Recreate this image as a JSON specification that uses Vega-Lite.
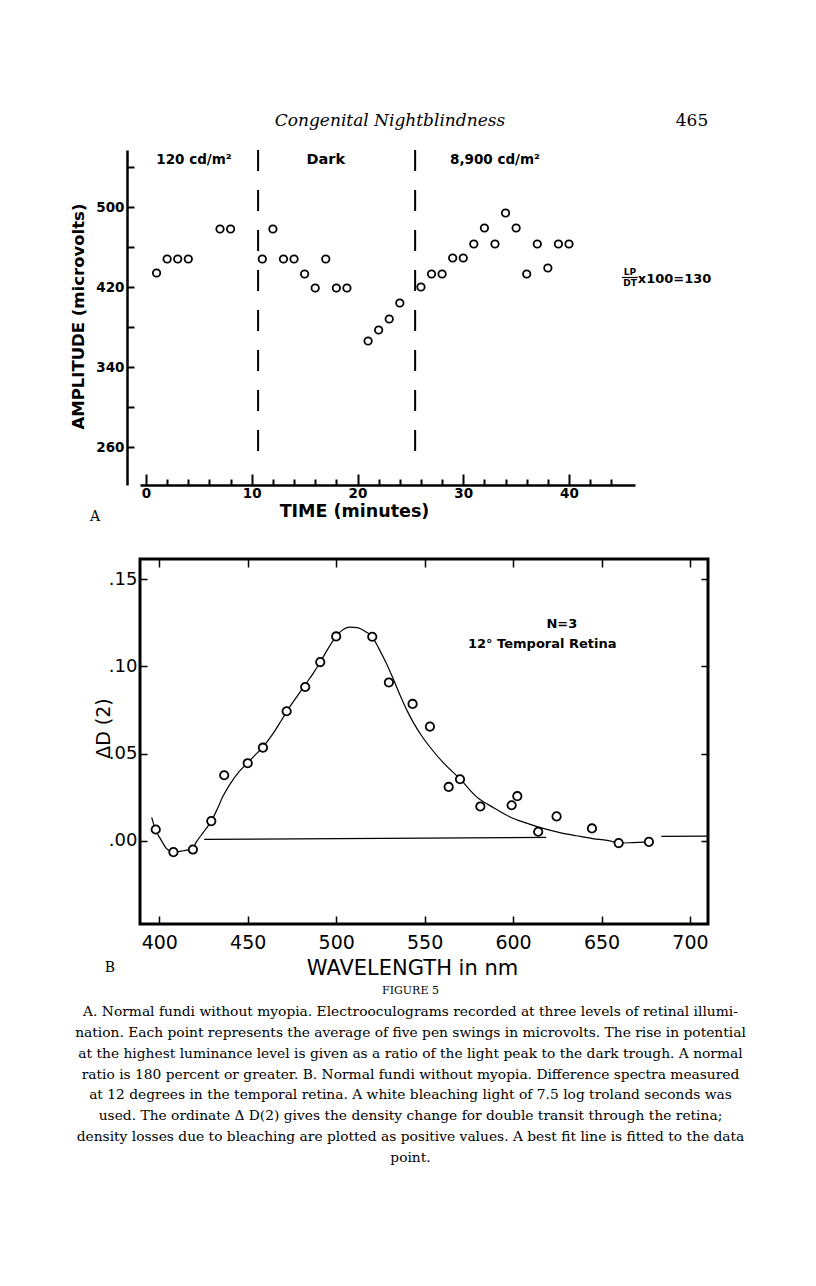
{
  "$schema": "https://vega.github.io/schema/vega-lite/v6.json",
  "background": "white",
  "padding": {"left": 70, "top": 112, "right": 0, "bottom": 0},
  "autosize": {"type": "pad"},
  "config": {
    "view": {"stroke": null},
    "axis": {"grid": false, "domainColor": "black", "tickColor": "black", "labelColor": "black", "titleColor": "black"},
    "text": {"color": "black"}
  },
  "datasets": {
    "eog": [
      {"t": 1, "amp": 434}, {"t": 2, "amp": 448}, {"t": 3, "amp": 448}, {"t": 4, "amp": 448},
      {"t": 7, "amp": 478}, {"t": 8, "amp": 478}, {"t": 11, "amp": 448}, {"t": 12, "amp": 478},
      {"t": 13, "amp": 448}, {"t": 14, "amp": 448}, {"t": 15, "amp": 433}, {"t": 16, "amp": 419},
      {"t": 17, "amp": 448}, {"t": 18, "amp": 419}, {"t": 19, "amp": 419}, {"t": 21, "amp": 366},
      {"t": 22, "amp": 377}, {"t": 23, "amp": 388}, {"t": 24, "amp": 404}, {"t": 26, "amp": 420},
      {"t": 27, "amp": 433}, {"t": 28, "amp": 433}, {"t": 29, "amp": 449}, {"t": 30, "amp": 449},
      {"t": 31, "amp": 463}, {"t": 32, "amp": 479}, {"t": 33, "amp": 463}, {"t": 34, "amp": 494},
      {"t": 35, "amp": 479}, {"t": 36, "amp": 433}, {"t": 37, "amp": 463}, {"t": 38, "amp": 439},
      {"t": 39, "amp": 463}, {"t": 40, "amp": 463}
    ],
    "spectrum": [
      {"wl": 398, "d": 0.0065}, {"wl": 408, "d": -0.0065}, {"wl": 419, "d": -0.005},
      {"wl": 429.4, "d": 0.0113}, {"wl": 436.7, "d": 0.0376}, {"wl": 450, "d": 0.0445},
      {"wl": 458.6, "d": 0.0534}, {"wl": 472, "d": 0.0743}, {"wl": 482.5, "d": 0.0882},
      {"wl": 491, "d": 0.1025}, {"wl": 500, "d": 0.1172}, {"wl": 520.4, "d": 0.117},
      {"wl": 529.8, "d": 0.0908}, {"wl": 543.2, "d": 0.0785}, {"wl": 553, "d": 0.0655},
      {"wl": 563.6, "d": 0.0309}, {"wl": 570, "d": 0.0353}, {"wl": 581.5, "d": 0.0197},
      {"wl": 599.2, "d": 0.0204}, {"wl": 602.4, "d": 0.0256}, {"wl": 614.2, "d": 0.0052},
      {"wl": 624.6, "d": 0.014}, {"wl": 644.6, "d": 0.0071}, {"wl": 659.7, "d": -0.0013},
      {"wl": 676.8, "d": -0.0006}
    ],
    "fit": [
      {"wl": 395.7, "d": 0.0134}, {"wl": 398, "d": 0.006}, {"wl": 400.5, "d": 0.0014},
      {"wl": 404, "d": -0.0043}, {"wl": 408, "d": -0.0065}, {"wl": 413.5, "d": -0.0057},
      {"wl": 418.7, "d": -0.0045}, {"wl": 421, "d": -0.0006}, {"wl": 425, "d": 0.005},
      {"wl": 429.4, "d": 0.0113}, {"wl": 432.5, "d": 0.0176}, {"wl": 436, "d": 0.0255},
      {"wl": 440, "d": 0.0325}, {"wl": 445, "d": 0.0395}, {"wl": 450, "d": 0.0448},
      {"wl": 454, "d": 0.049}, {"wl": 458.6, "d": 0.0538}, {"wl": 464, "d": 0.061},
      {"wl": 469, "d": 0.069}, {"wl": 474, "d": 0.0772}, {"wl": 478, "d": 0.083},
      {"wl": 482.5, "d": 0.0895}, {"wl": 487, "d": 0.096}, {"wl": 491, "d": 0.1025},
      {"wl": 495, "d": 0.1095}, {"wl": 500, "d": 0.1172}, {"wl": 504, "d": 0.1212},
      {"wl": 508, "d": 0.1225}, {"wl": 512, "d": 0.1222}, {"wl": 516, "d": 0.1203},
      {"wl": 520.4, "d": 0.117}, {"wl": 524, "d": 0.1105}, {"wl": 528, "d": 0.1025},
      {"wl": 532, "d": 0.0935}, {"wl": 536, "d": 0.0838}, {"wl": 540, "d": 0.0748},
      {"wl": 544, "d": 0.0672}, {"wl": 548, "d": 0.0607}, {"wl": 553, "d": 0.0538},
      {"wl": 560.5, "d": 0.0448}, {"wl": 570, "d": 0.0355}, {"wl": 579.4, "d": 0.0252},
      {"wl": 589, "d": 0.019}, {"wl": 598.3, "d": 0.0137}, {"wl": 608, "d": 0.01},
      {"wl": 617, "d": 0.0071}, {"wl": 627, "d": 0.0046}, {"wl": 636, "d": 0.0029},
      {"wl": 645, "d": 0.0013}, {"wl": 654.8, "d": 0.0}, {"wl": 659.7, "d": -0.0013},
      {"wl": 668, "d": -0.001}, {"wl": 676.8, "d": -0.0006}
    ],
    "baseline": [
      {"seg": "a", "wl": 425.4, "d": 0.0008}, {"seg": "a", "wl": 618.7, "d": 0.002},
      {"seg": "b", "wl": 683.8, "d": 0.0025}, {"seg": "b", "wl": 710.2, "d": 0.0027}
    ],
    "caption": [
      {"line": 0, "text": "FIGURE 5"},
      {"line": 1, "text": "A. Normal fundi without myopia. Electrooculograms recorded at three levels of retinal illumi-"},
      {"line": 2, "text": "nation. Each point represents the average of five pen swings in microvolts. The rise in potential"},
      {"line": 3, "text": "at the highest luminance level is given as a ratio of the light peak to the dark trough. A normal"},
      {"line": 4, "text": "ratio is 180 percent or greater. B. Normal fundi without myopia. Difference spectra measured"},
      {"line": 5, "text": "at 12 degrees in the temporal retina. A white bleaching light of 7.5 log troland seconds was"},
      {"line": 6, "text": "used. The ordinate Δ D(2) gives the density change for double transit through the retina;"},
      {"line": 7, "text": "density losses due to bleaching are plotted as positive values. A best fit line is fitted to the data"},
      {"line": 8, "text": "point."}
    ]
  },
  "bounds": "flush",
  "spacing": 74,
  "vconcat": [
    {
      "width": 495,
      "height": 335,
      "resolve": {"axis": {"x": "independent"}},
      "layer": [
        {
          "data": {"values": [{"t": 10.6}, {"t": 25.45}]},
          "mark": {"type": "rule", "strokeDash": [21, 19], "strokeWidth": 2, "color": "black"},
          "encoding": {
            "x": {"field": "t", "type": "quantitative",
              "scale": {"domain": [-0.567, 46.24], "nice": false, "zero": false},
              "axis": {"orient": "bottom", "values": [0, 10, 20, 30, 40], "tickSize": -11, "tickWidth": 2, "domain": false,
                "labelPadding": 12, "labelFont": "DejaVu Sans", "labelFontWeight": "bold", "labelFontSize": 13.5,
                "labelFlush": false, "title": "TIME (minutes)", "titleFont": "DejaVu Sans", "titleFontWeight": "bold",
                "titleFontSize": 17.5, "titlePadding": 3, "titleX": 214}},
            "y": {"datum": 557},
            "y2": {"datum": 247}
          }
        },
        {
          "data": {"name": "eog"},
          "mark": {"type": "point", "shape": "circle", "filled": false, "stroke": "black", "strokeWidth": 1.8, "size": 55, "opacity": 1},
          "encoding": {
            "x": {"field": "t", "type": "quantitative",
              "axis": {"orient": "bottom", "values": [2, 4, 6, 8, 12, 14, 16, 18, 22, 24, 26, 28, 32, 34, 36, 38, 42, 44],
                "tickSize": -6, "tickWidth": 2, "labels": false, "domain": true, "domainWidth": 2.5, "title": null}},
            "y": {"field": "amp", "type": "quantitative",
              "scale": {"domain": [222, 557], "nice": false, "zero": false},
              "axis": {"values": [260, 300, 340, 380, 420, 460, 500, 540], "tickSize": -7, "tickWidth": 2,
                "offset": 13, "domainWidth": 2.5, "labelExpr": "datum.value % 80 == 20 ? datum.label : ''",
                "labelPadding": 10, "labelFont": "DejaVu Sans", "labelFontWeight": "bold", "labelFontSize": 13.5,
                "title": "AMPLITUDE (microvolts)", "titleFont": "DejaVu Sans", "titleFontWeight": "bold",
                "titleFontSize": 16.5, "titlePadding": 9, "titleY": 166}}
          }
        },
        {
          "data": {"values": [{}]},
          "mark": {"type": "text", "font": "DejaVu Sans", "fontWeight": "bold", "fontSize": 13.5},
          "encoding": {"x": {"datum": 4.54, "axis": null}, "y": {"datum": 547}, "text": {"value": "120 cd/m²"}}
        },
        {
          "data": {"values": [{}]},
          "mark": {"type": "text", "font": "DejaVu Sans", "fontWeight": "bold", "fontSize": 14.5},
          "encoding": {"x": {"datum": 17.0, "axis": null}, "y": {"datum": 547}, "text": {"value": "Dark"}}
        },
        {
          "data": {"values": [{}]},
          "mark": {"type": "text", "font": "DejaVu Sans", "fontWeight": "bold", "fontSize": 13.5},
          "encoding": {"x": {"datum": 33.0, "axis": null}, "y": {"datum": 547}, "text": {"value": "8,900 cd/m²"}}
        },
        {
          "data": {"values": [{}]},
          "mark": {"type": "text", "font": "DejaVu Sans", "fontWeight": "bold", "fontSize": 9},
          "encoding": {"x": {"datum": 45.77, "axis": null}, "y": {"datum": 435}, "text": {"value": "LP"}}
        },
        {
          "data": {"values": [{}]},
          "mark": {"type": "text", "font": "DejaVu Sans", "fontWeight": "bold", "fontSize": 9},
          "encoding": {"x": {"datum": 45.77, "axis": null}, "y": {"datum": 424}, "text": {"value": "DT"}}
        },
        {
          "data": {"values": [{}]},
          "mark": {"type": "rule", "strokeWidth": 1.2, "color": "black"},
          "encoding": {"x": {"datum": 45.0, "axis": null}, "x2": {"datum": 46.5}, "y": {"datum": 429.5}}
        },
        {
          "data": {"values": [{}]},
          "mark": {"type": "text", "font": "DejaVu Sans", "fontWeight": "bold", "fontSize": 13, "align": "left"},
          "encoding": {"x": {"datum": 46.5, "axis": null}, "y": {"datum": 428}, "text": {"value": "x100=130"}}
        },
        {
          "data": {"values": [{}]},
          "mark": {"type": "text", "font": "DejaVu Serif", "fontStyle": "italic", "fontSize": 17},
          "encoding": {"x": {"datum": 23.07, "axis": null}, "y": {"datum": 586}, "text": {"value": "Congenital Nightblindness"}}
        },
        {
          "data": {"values": [{}]},
          "mark": {"type": "text", "font": "DejaVu Serif", "fontSize": 17},
          "encoding": {"x": {"datum": 51.63, "axis": null}, "y": {"datum": 586}, "text": {"value": "465"}}
        },
        {
          "data": {"values": [{}]},
          "mark": {"type": "text", "font": "DejaVu Serif", "fontSize": 14},
          "encoding": {"x": {"datum": -4.82, "axis": null}, "y": {"datum": 190}, "text": {"value": "A"}}
        }
      ]
    },
    {
      "bounds": "flush",
      "spacing": 57,
      "vconcat": [
        {
          "width": 568,
          "height": 365,
          "view": {"stroke": "black", "strokeWidth": 3},
          "resolve": {"axis": {"x": "independent", "y": "independent"}},
          "layer": [
            {
              "data": {"name": "fit"},
              "mark": {"type": "line", "color": "black", "strokeWidth": 1.2, "interpolate": "monotone"},
              "encoding": {
                "x": {"field": "wl", "type": "quantitative",
                  "scale": {"domain": [389.1, 710.2], "nice": false, "zero": false},
                  "axis": {"orient": "top", "values": [400, 450, 500, 550, 600, 650, 700], "tickSize": -8, "tickWidth": 1.5,
                    "labels": false, "domain": false, "title": null}},
                "y": {"field": "d", "type": "quantitative",
                  "scale": {"domain": [-0.0477, 0.1616], "nice": false, "zero": false},
                  "axis": {"orient": "right", "values": [0, 0.05, 0.1, 0.15], "tickSize": -7, "tickWidth": 1.5,
                    "labels": false, "domain": false, "title": null}}
              }
            },
            {
              "data": {"name": "baseline"},
              "mark": {"type": "line", "color": "black", "strokeWidth": 1.2},
              "encoding": {
                "x": {"field": "wl", "type": "quantitative", "axis": null},
                "y": {"field": "d", "type": "quantitative", "axis": null},
                "detail": {"field": "seg"}
              }
            },
            {
              "data": {"name": "spectrum"},
              "mark": {"type": "point", "shape": "circle", "filled": true, "fill": "white", "stroke": "black", "strokeWidth": 1.8, "size": 70, "opacity": 1},
              "encoding": {
                "x": {"field": "wl", "type": "quantitative",
                  "axis": {"orient": "bottom", "values": [400, 450, 500, 550, 600, 650, 700], "tickSize": -8, "tickWidth": 1.5,
                    "domain": false, "labelPadding": 17, "labelFont": "DejaVu Sans", "labelFontSize": 19, "labelFlush": false,
                    "title": "WAVELENGTH in nm", "titleFont": "DejaVu Sans", "titleFontWeight": "normal", "titleFontSize": 21,
                    "titlePadding": 5, "titleX": 272}},
                "y": {"field": "d", "type": "quantitative",
                  "axis": {"orient": "left", "values": [0, 0.05, 0.1, 0.15], "tickSize": -7, "tickWidth": 1.5,
                    "domain": false, "labelPadding": 10, "labelFont": "DejaVu Sans", "labelFontSize": 18,
                    "labelExpr": "replace(format(datum.value, '.2f'), '0.', '.')",
                    "title": "ΔD (2)", "titleFont": "DejaVu Sans", "titleFontWeight": "normal", "titleFontSize": 19,
                    "titlePadding": -5, "titleY": 169}}
              }
            },
            {
              "data": {"values": [{}]},
              "mark": {"type": "text", "font": "DejaVu Sans", "fontWeight": "bold", "fontSize": 13},
              "encoding": {"x": {"datum": 627.6, "axis": null}, "y": {"datum": 0.1245, "axis": null}, "text": {"value": "N=3"}}
            },
            {
              "data": {"values": [{}]},
              "mark": {"type": "text", "font": "DejaVu Sans", "fontWeight": "bold", "fontSize": 13, "align": "left"},
              "encoding": {"x": {"datum": 574.5, "axis": null}, "y": {"datum": 0.1129, "axis": null}, "text": {"value": "12° Temporal Retina"}}
            },
            {
              "data": {"values": [{}]},
              "mark": {"type": "text", "font": "DejaVu Serif", "fontSize": 14},
              "encoding": {"x": {"datum": 372.1, "axis": null}, "y": {"datum": -0.0728, "axis": null}, "text": {"value": "B"}}
            }
          ]
        },
        {
          "width": 541,
          "height": 187,
          "data": {"name": "caption"},
          "layer": [
            {
              "transform": [{"filter": "datum.line == 0"}],
              "mark": {"type": "text", "font": "DejaVu Serif", "fontSize": 11},
              "encoding": {
                "y": {"field": "line", "type": "ordinal", "scale": {"domain": [0, 1, 2, 3, 4, 5, 6, 7, 8]}, "axis": null},
                "text": {"field": "text"}
              }
            },
            {
              "transform": [{"filter": "datum.line > 0"}],
              "mark": {"type": "text", "font": "DejaVu Serif", "fontSize": 13.8},
              "encoding": {
                "y": {"field": "line", "type": "ordinal", "scale": {"domain": [0, 1, 2, 3, 4, 5, 6, 7, 8]}, "axis": null},
                "text": {"field": "text"}
              }
            }
          ]
        }
      ]
    }
  ]
}
